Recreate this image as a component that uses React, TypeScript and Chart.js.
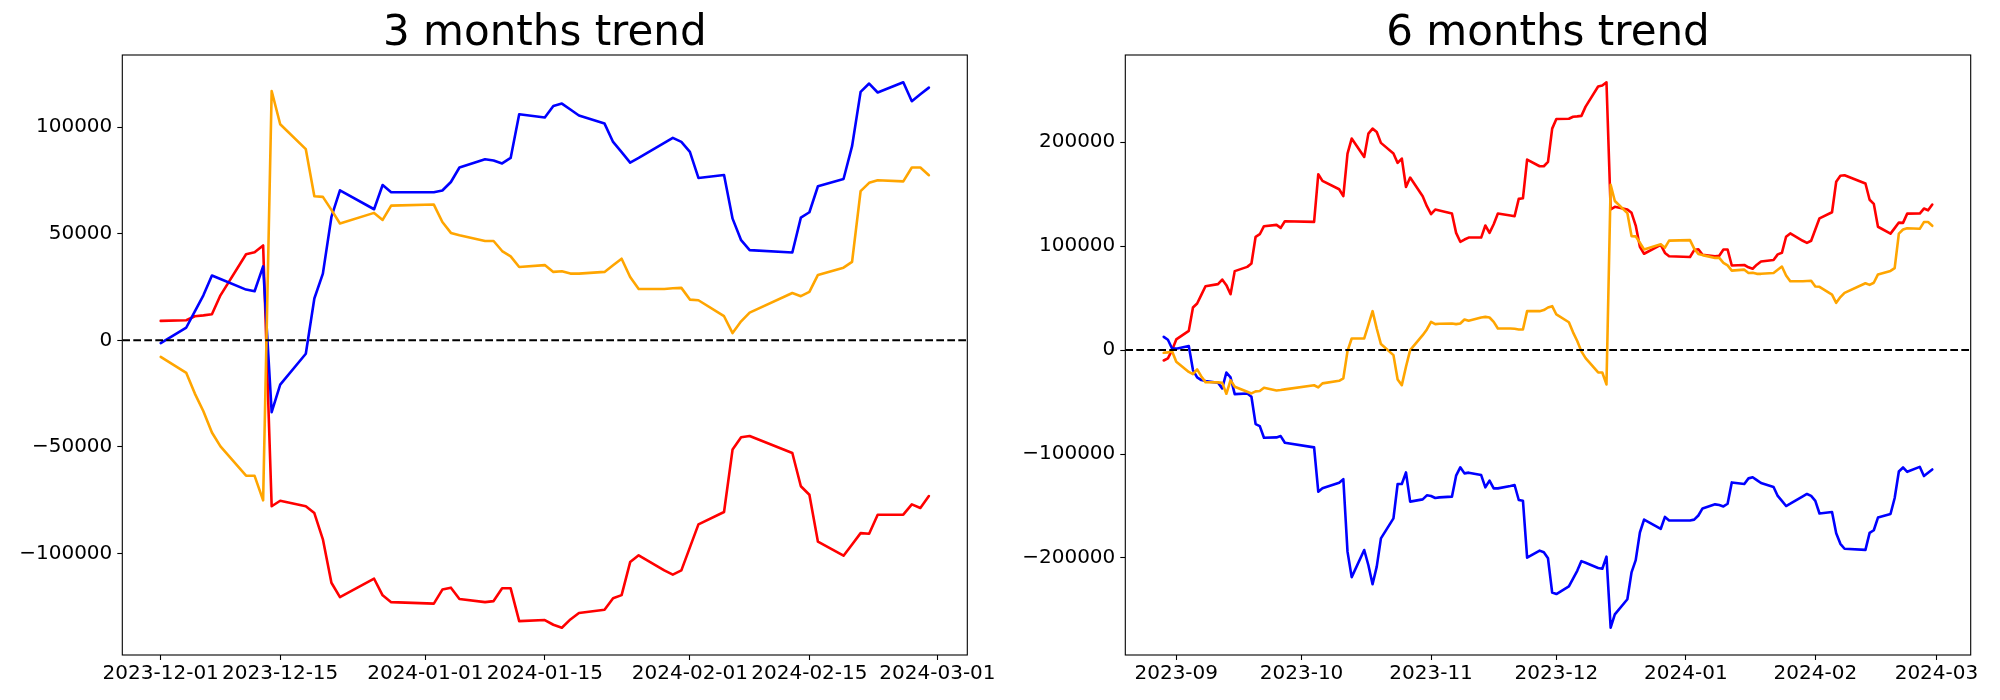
import React, { useEffect, useRef } from "react";
import { Chart, registerables } from "chart.js";

Chart.register(...registerables);
Chart.defaults.font.family = "'DejaVu Sans', sans-serif";

// ---------------- 3 months data ----------------
const dates3m = [
  "2023-12-01","2023-12-04","2023-12-05","2023-12-06","2023-12-07","2023-12-08","2023-12-11","2023-12-12","2023-12-13","2023-12-14",
  "2023-12-15","2023-12-18","2023-12-19","2023-12-20","2023-12-21","2023-12-22","2023-12-26","2023-12-27","2023-12-28",
  "2024-01-02","2024-01-03","2024-01-04","2024-01-05","2024-01-08","2024-01-09","2024-01-10","2024-01-11","2024-01-12","2024-01-15",
  "2024-01-16","2024-01-17","2024-01-18","2024-01-19","2024-01-22","2024-01-23","2024-01-24","2024-01-25","2024-01-26","2024-01-29",
  "2024-01-30","2024-01-31",
  "2024-02-01","2024-02-02","2024-02-05","2024-02-06","2024-02-07","2024-02-08","2024-02-13","2024-02-14","2024-02-15","2024-02-16",
  "2024-02-19","2024-02-20","2024-02-21","2024-02-22","2024-02-23","2024-02-26","2024-02-27","2024-02-28","2024-02-29",
];
const red3m = [
  9100, 9400, 11300, 11700, 12200, 21100, 40400, 41300, 44500, -77900,
  -75300, -77900, -81100, -93400, -113800, -120500, -111900, -119700, -122900,
  -123600, -117000, -116100, -121400, -122900, -122400, -116400, -116400, -131800, -131300,
  -133500, -134900, -131000, -128000, -126500, -121100, -119600, -104100, -100900, -108000,
  -110000, -108000,
  -97200, -86400, -80600, -51200, -45500, -44900, -52900, -68500, -72500, -94500,
  -101100, -95800, -90500, -90800, -81900, -81800, -77000, -78700, -73100,
];
const blue3m = [
  -1300, 6000, 13600, 21100, 30400, 28800, 23800, 23000, 34700, -33700,
  -20800, -6300, 19600, 31300, 57900, 70400, 61500, 72900, 69500,
  69500, 70300, 74300, 81100, 85000, 84400, 83000, 85600, 106100, 104600,
  110000, 111100, 108300, 105500, 101700, 93100, 88300, 83400, 85600, 92600,
  95000, 93100,
  88400, 76200, 77600, 57100, 47000, 42300, 41200, 57600, 60100, 72300,
  75700, 91100, 116600, 120500, 116300, 121100, 112200, 115500, 118600,
];
const orange3m = [
  -7800, -15300, -25000, -33300, -43300, -49800, -63500, -63600, -75100, 117000,
  101400, 89700, 67600, 67300, 61200, 54800, 59800, 56500, 63200,
  63700, 55500, 50400, 49300, 46600, 46600, 41900, 39400, 34400, 35300,
  32100, 32400, 31300, 31300, 32100, 35200, 38300, 29700, 24100, 24100,
  24400, 24600,
  19100, 18800, 11300, 3400, 8900, 13000, 22200, 20700, 22700, 30700,
  34100, 36800, 70000, 73900, 75100, 74600, 81100, 81100, 77500,
];
const xTicks3m = ["2023-12-01","2023-12-15","2024-01-01","2024-01-15","2024-02-01","2024-02-15","2024-03-01"];
const yTicks3m = [-100000, -50000, 0, 50000, 100000];

// ---------------- 6 months data ----------------
const dates6m = [
  "2023-08-29","2023-08-30","2023-08-31",
  "2023-09-01","2023-09-04","2023-09-05","2023-09-06","2023-09-07","2023-09-08","2023-09-11","2023-09-12","2023-09-13","2023-09-14",
  "2023-09-15","2023-09-18","2023-09-19","2023-09-20","2023-09-21","2023-09-22","2023-09-25","2023-09-26","2023-09-27",
  "2023-10-04","2023-10-05","2023-10-06","2023-10-10","2023-10-11","2023-10-12","2023-10-13","2023-10-16","2023-10-17","2023-10-18",
  "2023-10-19","2023-10-20","2023-10-23","2023-10-24","2023-10-25","2023-10-26","2023-10-27","2023-10-30","2023-10-31",
  "2023-11-01","2023-11-02","2023-11-03","2023-11-06","2023-11-07","2023-11-08","2023-11-09","2023-11-10","2023-11-13","2023-11-14",
  "2023-11-15","2023-11-16","2023-11-17","2023-11-20","2023-11-21","2023-11-22","2023-11-23","2023-11-24","2023-11-27","2023-11-28",
  "2023-11-29","2023-11-30",
  "2023-12-01","2023-12-04","2023-12-05","2023-12-06","2023-12-07","2023-12-08","2023-12-11","2023-12-12","2023-12-13","2023-12-14",
  "2023-12-15","2023-12-18","2023-12-19","2023-12-20","2023-12-21","2023-12-22","2023-12-26","2023-12-27","2023-12-28",
  "2024-01-02","2024-01-03","2024-01-04","2024-01-05","2024-01-08","2024-01-09","2024-01-10","2024-01-11","2024-01-12","2024-01-15",
  "2024-01-16","2024-01-17","2024-01-18","2024-01-19","2024-01-22","2024-01-23","2024-01-24","2024-01-25","2024-01-26","2024-01-29",
  "2024-01-30","2024-01-31",
  "2024-02-01","2024-02-02","2024-02-05","2024-02-06","2024-02-07","2024-02-08","2024-02-13","2024-02-14","2024-02-15","2024-02-16",
  "2024-02-19","2024-02-20","2024-02-21","2024-02-22","2024-02-23","2024-02-26","2024-02-27","2024-02-28","2024-02-29",
];
const red6m = [
  -10000, -8000, 0,
  10300, 18500, 41000, 44900, 53200, 61500, 63500, 67900, 62500, 53800,
  76000, 80100, 83300, 109000, 111500, 119200, 120500, 117600, 124000,
  123400, 169200, 162800, 154800, 148100, 189100, 203500, 185900, 208300, 213100,
  209900, 199400, 189100, 180100, 184300, 157000, 166000, 148100, 138500,
  130800, 135200, 134300, 131400, 112800, 104200, 106400, 108300, 108300, 119900,
  112800, 121100, 131400, 129500, 128800, 145500, 146100, 183300, 176900, 176900,
  181100, 213100,
  222300, 222600, 224500, 224900, 225400, 234300, 253600, 254500, 257700, 135300,
  137900, 135300, 132100, 119800, 99400, 92700, 101300, 93500, 90300,
  89600, 96200, 97100, 91800, 90300, 90800, 96800, 96800, 81400, 81900,
  79700, 78300, 82200, 85200, 86700, 92100, 93600, 109100, 112300, 105200,
  103200, 105200,
  116000, 126800, 132600, 162000, 167700, 168300, 160300, 144700, 140700, 118700,
  112100, 117400, 122700, 122400, 131300, 131400, 136200, 134500, 140100,
];
const blue6m = [
  12800, 10000, 1600,
  1400, 4000, -19200, -26300, -28800, -29800, -31400, -36900, -21500, -26300,
  -42300, -41700, -44900, -71200, -73100, -84300, -84000, -82700, -89100,
  -93600, -136200, -133000, -127600, -124200, -193900, -218400, -192300, -207000, -225200,
  -208300, -181100, -161900, -128800, -128800, -117700, -145800, -143600, -139700,
  -140400, -142300, -141700, -141000, -120800, -112800, -118600, -117900, -120200, -132000,
  -125600, -133000, -133000, -130800, -129800, -144200, -144900, -199700, -192900, -194500,
  -200300, -233300,
  -234700, -227400, -219800, -212300, -203000, -204600, -209600, -210400, -198700, -267100,
  -254200, -239700, -213800, -202100, -175500, -163000, -171900, -160500, -163900,
  -163900, -163100, -159100, -152300, -148400, -149000, -150400, -147800, -127300, -128800,
  -123400, -122300, -125100, -127900, -131700, -140300, -145100, -150000, -147800, -140800,
  -138400, -140300,
  -145000, -157200, -155800, -176300, -186400, -191100, -192200, -175800, -173300, -161100,
  -157700, -142300, -116800, -112900, -117100, -112300, -121200, -117900, -114800,
];
const orange6m = [
  -2600, -2200, -1000,
  -11200, -21000, -23100, -18600, -25300, -30800, -31000, -31500, -42000, -29000,
  -35300, -40100, -41700, -39700, -39300, -36200, -38800, -38400, -37800,
  -33800, -35900, -32000, -29500, -27200, -1000, 11200, 11200, 24400, 37500,
  20800, 5800, -4800, -28200, -33700, -16000, 0, 14400, 19900,
  27200, 25000, 25300, 25600, 25000, 25600, 29500, 28200, 31400, 32000,
  31400, 27200, 20800, 20800, 20500, 19900, 19900, 37500, 37500, 38500,
  41000, 42300,
  34300, 26800, 17100, 8800, -1200, -7700, -21400, -21500, -33000, 159100,
  143500, 131800, 109700, 109400, 103300, 96900, 101900, 98600, 105300,
  105800, 97600, 92500, 91400, 88700, 88700, 84000, 81500, 76500, 77400,
  74200, 74500, 73400, 73400, 74200, 77300, 80400, 71800, 66200, 66200,
  66500, 66700,
  61200, 60900, 53400, 45500, 51000, 55100, 64300, 62800, 64800, 72800,
  76200, 78900, 112100, 116000, 117200, 116700, 123200, 123200, 119600,
];
const xTicks6m = ["2023-09","2023-10","2023-11","2023-12","2024-01","2024-02","2024-03"];
const yTicks6m = [-200000, -100000, 0, 100000, 200000];

// ---------------- helpers ----------------
function ts(s: string): number {
  const p = s.split("-").map(Number);
  return Date.UTC(p[0], p[1] - 1, p[2] || 1);
}
function fmtY(v: number): string {
  return v < 0 ? "\u2212" + String(-v) : String(v);
}

const framePlugin = {
  id: "frame",
  afterDraw(chart: any) {
    const { ctx, chartArea: a } = chart;
    ctx.save();
    ctx.strokeStyle = "#000";
    ctx.lineWidth = 1.1;
    ctx.strokeRect(a.left, a.top, a.right - a.left, a.bottom - a.top);
    ctx.restore();
  },
};

type Props = {
  title: string;
  dates: string[];
  red: number[];
  blue: number[];
  orange: number[];
  xTicks: string[];
  yTicks: number[];
  left: number;
  width: number;
  axisWidth: number;
  padRight: number;
};

const LINE_W = 2.6;

function TrendChart(props: Props) {
  const ref = useRef<HTMLCanvasElement>(null);
  useEffect(() => {
    const xs = props.dates.map(ts);
    const x0 = xs[0];
    const x1 = xs[xs.length - 1];
    const xPad = (x1 - x0) * 0.05;
    const all = [...props.red, ...props.blue, ...props.orange];
    const yMin = Math.min(...all);
    const yMax = Math.max(...all);
    const yPad = (yMax - yMin) * 0.05;
    const toPts = (vals: number[]) => vals.map((v, i) => ({ x: xs[i], y: v }));
    const xTickVals = props.xTicks.map(ts);
    const tickFont = { family: "'DejaVu Sans', sans-serif", size: 20 };
    const gridCfg = {
      display: true,
      drawOnChartArea: false,
      drawTicks: true,
      tickLength: 5,
      tickColor: "#000",
      tickWidth: 1.1,
    };
    const lineDs = (vals: number[], color: string) => ({
      data: toPts(vals),
      borderColor: color,
      backgroundColor: color,
      borderWidth: LINE_W,
      borderJoinStyle: "round",
      borderCapStyle: "round",
      pointRadius: 0,
      tension: 0,
      fill: false,
    });
    const chart = new Chart(ref.current as HTMLCanvasElement, {
      type: "line",
      data: {
        datasets: [
          {
            data: [{ x: x0 - xPad, y: 0 }, { x: x1 + xPad, y: 0 }],
            borderColor: "#000",
            borderWidth: 2,
            borderDash: [7.7, 3.3],
            pointRadius: 0,
            fill: false,
          },
          lineDs(props.orange, "#ffa500"),
          lineDs(props.blue, "#0000ff"),
          lineDs(props.red, "#ff0000"),
        ],
      },
      options: {
        responsive: false,
        animation: false,
        devicePixelRatio: 1,
        layout: { padding: { left: 0, right: props.padRight, top: 0, bottom: 0 } },
        plugins: {
          legend: { display: false },
          tooltip: { enabled: false },
          title: {
            display: true,
            fullSize: false,
            text: props.title,
            color: "#000",
            font: { family: "'DejaVu Sans', sans-serif", size: 42, weight: "normal", lineHeight: 1 },
            padding: { top: 13, bottom: 0 },
          },
        },
        scales: {
          x: {
            type: "linear",
            min: x0 - xPad,
            max: x1 + xPad,
            afterBuildTicks: (s: any) => {
              s.ticks = xTickVals.map((v) => ({ value: v }));
            },
            afterFit: (s: any) => {
              s.height = 45;
            },
            grid: gridCfg,
            border: { display: false },
            ticks: {
              autoSkip: false,
              maxRotation: 0,
              minRotation: 0,
              padding: 2,
              color: "#000",
              font: tickFont,
              callback: (_v: any, i: number) => props.xTicks[i],
            },
          },
          y: {
            type: "linear",
            min: yMin - yPad,
            max: yMax + yPad,
            afterBuildTicks: (s: any) => {
              s.ticks = props.yTicks.map((v) => ({ value: v }));
            },
            afterFit: (s: any) => {
              s.width = props.axisWidth;
            },
            grid: gridCfg,
            border: { display: false },
            ticks: {
              padding: 5,
              color: "#000",
              font: tickFont,
              callback: (v: any) => fmtY(Number(v)),
            },
          },
        },
      },
      plugins: [framePlugin],
    } as any);
    return () => chart.destroy();
  }, []);
  return (
    <canvas
      ref={ref}
      width={props.width}
      height={700}
      style={{ position: "absolute", left: props.left, top: 0, width: props.width, height: 700 }}
    />
  );
}

export default function App() {
  return (
    <div style={{ position: "absolute", left: 0, top: 0, width: 2000, height: 700, background: "#fff" }}>
      <TrendChart
        title="3 months trend"
        dates={dates3m}
        red={red3m}
        blue={blue3m}
        orange={orange3m}
        xTicks={xTicks3m}
        yTicks={yTicks3m}
        left={0}
        width={1010}
        axisWidth={122.3}
        padRight={42.7}
      />
      <TrendChart
        title="6 months trend"
        dates={dates6m}
        red={red6m}
        blue={blue6m}
        orange={orange6m}
        xTicks={xTicks6m}
        yTicks={yTicks6m}
        left={1010}
        width={990}
        axisWidth={115.3}
        padRight={29.3}
      />
    </div>
  );
}
